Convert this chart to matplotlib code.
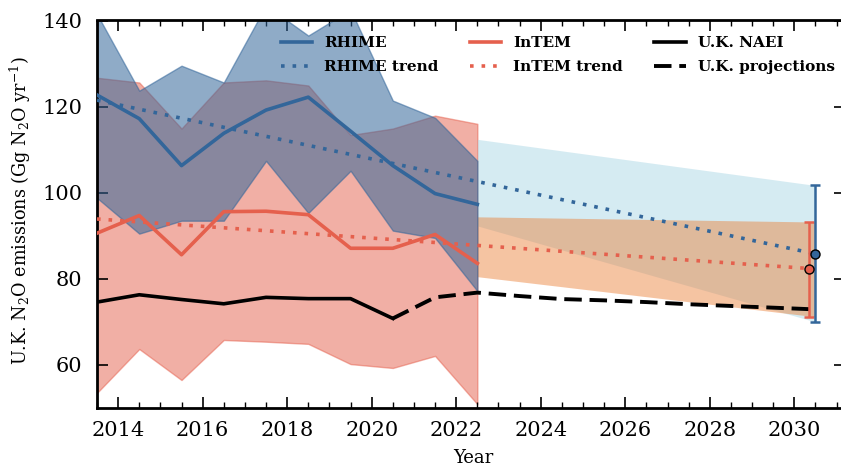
import numpy as np
import matplotlib
matplotlib.use('Agg')
import matplotlib.pyplot as plt

plt.rc('font', family='DejaVu Serif')
plt.rc('mathtext', fontset='dejavuserif')
plt.rc('xtick', labelsize=15, direction='in', top=True)
plt.rc('ytick', labelsize=15, direction='in', right=True)
plt.rc('xtick.major', size=8, width=1.2, pad=9)
plt.rc('xtick.minor', size=4.5, width=1.0)
plt.rc('ytick.major', size=8, width=1.2, pad=10.5)

# annual estimates, plotted at mid-year
years = [2013, 2014, 2015, 2016, 2017, 2018, 2019, 2020, 2021, 2022]
rhime = [122.7, 117.2, 106.3, 113.8, 119.2, 122.2, 114.3, 106.3, 99.8, 97.3]
rhime_hi = [141.5, 123.7, 129.5, 125.6, 143.5, 136.5, 142.5, 121.4, 117.4, 107.4]
rhime_lo = [98.8, 90.5, 93.5, 93.5, 107.4, 95.3, 105.1, 91.2, 89.5, 77.2]
intem = [90.6, 94.7, 85.6, 95.6, 95.7, 94.9, 87.1, 87.1, 90.3, 83.6]
intem_hi = [126.7, 125.6, 114.9, 125.6, 126.1, 124.9, 113.4, 114.9, 117.9, 116.0]
intem_lo = [53.5, 63.7, 56.5, 65.8, 65.4, 64.9, 60.2, 59.3, 62.1, 50.9]

naei_years = [2013, 2014, 2015, 2016, 2017, 2018, 2019, 2020]
naei = [74.6, 76.3, 75.2, 74.2, 75.7, 75.4, 75.4, 70.8]
proj_years = [2020, 2021, 2022, 2023, 2024, 2025, 2026, 2027, 2028, 2029, 2030]
proj = [70.8, 75.7, 76.8, 76.0, 75.3, 75.0, 74.6, 74.1, 73.7, 73.3, 72.9]

# linear trends, extended to 2030
trend_years = [2013, 2030]
rhime_trend = [121.5, 85.8]
intem_trend = [93.9, 82.3]

# trend uncertainty bands 2022 -> 2030
band_years = [2022, 2030]
rhime_band_hi = [112.4, 101.7]
rhime_band_lo = [92.3, 70.0]
intem_band_hi = [94.4, 93.2]
intem_band_lo = [80.5, 71.2]

# 2030 trend end points with range
rhime_2030 = 85.8
rhime_2030_rng = [70.0, 101.7]
intem_2030 = 82.3
intem_2030_rng = [71.2, 93.2]

blue = '#33669a'
red = '#e5604d'

x = np.array(years) + 0.5
xn = np.array(naei_years) + 0.5
xp = np.array(proj_years) + 0.5
xt = np.array(trend_years) + 0.5
xb = np.array(band_years) + 0.5

fig = plt.figure(figsize=(8.41, 4.67), dpi=100)
ax = fig.add_axes([97/841, 59/467, 748/841, 387.5/467])

ax.fill_between(x, intem_lo, intem_hi, color=red, alpha=0.5, zorder=1)
ax.fill_between(x, rhime_lo, rhime_hi, color=blue, alpha=0.55, zorder=2)
ax.fill_between(xb, rhime_band_lo, rhime_band_hi, color='lightblue', alpha=0.5,
                lw=0, zorder=1)
ax.fill_between(xb, intem_band_lo, intem_band_hi, color='#eb7c32', alpha=0.45,
                lw=0, zorder=1)

l1, = ax.plot(x, rhime, color=blue, lw=2.6, zorder=4)
l2, = ax.plot(xt, rhime_trend, color=blue, lw=2.6, dashes=(1, 2.2), zorder=4)
l3, = ax.plot(x, intem, color=red, lw=2.6, zorder=4)
l4, = ax.plot(xt, intem_trend, color=red, lw=2.6, dashes=(1, 2.2), zorder=4)
l5, = ax.plot(xn, naei, color='k', lw=2.6, zorder=4)
l6, = ax.plot(xp, proj, color='k', lw=2.8, dashes=(4.5, 2), zorder=4)

# 2030 ranges
ax.errorbar([2030.35], [intem_2030],
            yerr=[[intem_2030 - intem_2030_rng[0]], [intem_2030_rng[1] - intem_2030]],
            fmt='none', ecolor=red, elinewidth=1.8, capsize=3.5, capthick=1.8, zorder=5)
ax.errorbar([2030.5], [rhime_2030],
            yerr=[[rhime_2030 - rhime_2030_rng[0]], [rhime_2030_rng[1] - rhime_2030]],
            fmt='none', ecolor=blue, elinewidth=1.8, capsize=3.5, capthick=1.8, zorder=5)
ax.plot([2030.35], [intem_2030], 'o', color=red, mec='k', mew=1, ms=6.5, zorder=6)
ax.plot([2030.5], [rhime_2030], 'o', color=blue, mec='k', mew=1, ms=6.5, zorder=6)

ax.set_xlim(2013.5, 2031.2)
ax.set_ylim(50, 140)
ax.set_xticks(np.arange(2014, 2031, 2))
ax.set_xticks(np.arange(2013.5, 2031.1, 0.5), minor=True)
ax.set_yticks(np.arange(60, 141, 20))
for s in ax.spines.values():
    s.set_linewidth(2)

ax.set_xlabel('Year', fontsize=13)
ax.set_ylabel(r'U.K. N$_2$O emissions (Gg N$_2$O yr$^{-1}$)', fontsize=12.7)
ax.xaxis.set_label_coords(0.503, -0.106)
ax.yaxis.set_label_coords(-0.0856, 0.508)

ax.legend([l1, l2, l3, l4, l5, l6],
          ['RHIME', 'RHIME trend', 'InTEM', 'InTEM trend', 'U.K. NAEI', 'U.K. projections'],
          ncol=3, frameon=False, loc='upper left', bbox_to_anchor=(0.227, 0.995),
          prop={'weight': 'bold', 'size': 11}, handlelength=2.05,
          handletextpad=0.8, columnspacing=2.05, labelspacing=0.65)

fig.savefig('out.png', dpi=100)
